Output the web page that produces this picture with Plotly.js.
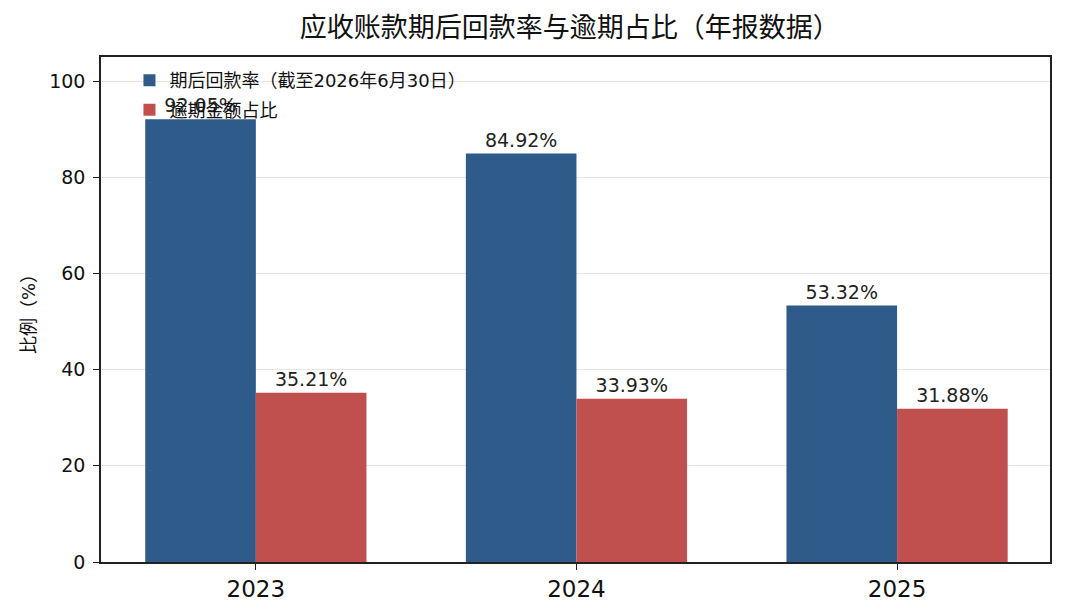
<!DOCTYPE html>
<html>
<head>
<meta charset="utf-8">
<script src="https://cdn.plot.ly/plotly-3.0.1.min.js"></script>
<style>
  html, body { margin: 0; padding: 0; background: #fff; }
  #chart { width: 1065px; height: 615px; }
</style>
</head>
<body>
<div id="chart"></div>
<script>
var years = ['2023', '2024', '2025'];
var collection_rate = [92.05, 84.92, 53.32];
var overdue_share = [35.21, 33.93, 31.88];
var y_ticks = [0, 20, 40, 60, 80, 100];

// latin glyphs from DejaVu, CJK falls back to Noto CJK
var FONT = '"DejaVu Sans", "Noto Sans CJK JP", "Noto Sans CJK SC", sans-serif';

var collection = {
    x: years,
    y: collection_rate,
    name: '期后回款率（截至2026年6月30日）',
    legendgroup: 'a',
    type: 'bar',
    marker: {color: '#2e5b8a'},
    texttemplate: '%{y:.2f}%',
    textposition: 'outside',
    textfont: {family: FONT, size: 19, color: '#222'},
    cliponaxis: false
};
var overdue = {
    x: years,
    y: overdue_share,
    name: '逾期金额占比',
    legendgroup: 'b',
    type: 'bar',
    marker: {color: '#c0504d'},
    texttemplate: '%{y:.2f}%',
    textposition: 'outside',
    textfont: {family: FONT, size: 19, color: '#222'},
    cliponaxis: false
};

var data = [collection, overdue];
var layout = {
    width: 1065,
    height: 615,
    font: {family: FONT, color: '#222'},
    title: {
        text: '应收账款期后回款率与逾期占比（年报数据）',
        font: {family: FONT, size: 27, color: '#111'},
        x: 0.535,
        xanchor: 'center',
        y: 0.956,
        yanchor: 'middle'
    },
    margin: {l: 101, r: 15, t: 57, b: 53},
    barmode: 'group',
    bargap: 0.31,
    bargroupgap: 0,
    paper_bgcolor: '#fff',
    plot_bgcolor: '#fff',
    xaxis: {
        type: 'category',
        range: [-0.483, 2.477],
        ticks: 'outside',
        ticklen: 6,
        tickcolor: '#222',
        tickfont: {family: FONT, size: 23, color: '#111'},
        showline: true,
        linecolor: '#222',
        linewidth: 1.5,
        mirror: true,
        showgrid: false
    },
    yaxis: {
        range: [0, 105],
        tickvals: y_ticks,
        ticks: 'outside',
        ticklen: 6,
        tickcolor: '#222',
        ticklabelstandoff: 4,
        tickfont: {family: FONT, size: 19, color: '#111'},
        showline: true,
        linecolor: '#222',
        linewidth: 1.5,
        mirror: true,
        showgrid: true,
        gridcolor: '#e6e6e6',
        zeroline: false,
        title: {
            text: '比例（%）',
            font: {family: FONT, size: 18, color: '#111'},
            standoff: 9
        }
    },
    showlegend: true,
    legend: {
        x: 0.03,
        y: 0.99,
        xanchor: 'left',
        yanchor: 'top',
        bgcolor: 'rgba(255,255,255,0)',
        tracegroupgap: 3,
        font: {family: FONT, size: 18, color: '#111'}
    }
};
var config = {responsive: false, displayModeBar: false};

Plotly.newPlot('chart', data, layout, config);
</script>
</body>
</html>
